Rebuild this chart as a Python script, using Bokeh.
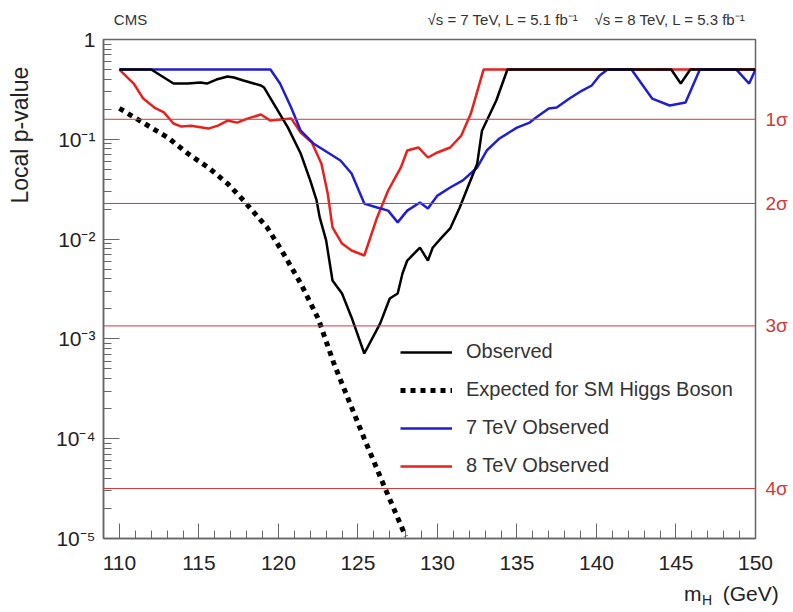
from bokeh.plotting import figure
from bokeh.models import (FixedTicker, CustomJSTickFormatter, Span,
                          Legend, LegendItem, LinearAxis, LogAxis, Range1d,
                          LogScale)
from bokeh.embed import file_html
from bokeh.resources import INLINE

# Combined observed local p-value vs Higgs mass
obs_mass = [110.0, 112.0, 113.4, 114.3, 115.1, 115.5, 116.1, 116.8, 117.2, 117.8,
            118.9, 119.1, 119.7, 120.6, 121.4, 122.0, 122.4, 122.6, 123.0, 123.4,
            124.0, 124.6, 125.4, 126.4, 127.0, 127.5, 127.8, 128.1, 128.9, 129.4,
            129.7, 130.2, 130.8, 131.4, 132.0, 132.5, 132.8, 133.7, 134.4, 144.7,
            145.3, 145.9, 150.0]
obs_p = [0.5, 0.5, 0.362, 0.362, 0.371, 0.362, 0.397, 0.426, 0.416, 0.388,
         0.346, 0.33, 0.228, 0.131, 0.072, 0.0387, 0.0244, 0.0164, 0.0097, 0.00385,
         0.00285, 0.00164, 0.000714, 0.00143, 0.00254, 0.00285, 0.00452, 0.0061, 0.0082, 0.0061,
         0.0082, 0.0101, 0.0128, 0.0207, 0.036, 0.057, 0.122, 0.245, 0.5, 0.5,
         0.362, 0.5, 0.5]

# Expected local p-value for a SM Higgs boson
exp_mass = [110.0, 112.0, 113.05, 114.3, 115.6, 116.8, 117.8, 119.3, 120.2, 121.4,
            122.5, 123.5, 125.4, 126.7, 128.0]
exp_p = [0.204, 0.131, 0.104, 0.072, 0.052, 0.036, 0.0245, 0.013, 0.0077, 0.0036,
         0.0016, 0.00056, 1.0e-4, 3.2e-5, 1.05e-5]

# 7 TeV observed
tev7_mass = [110.0, 119.5, 120.1, 120.8, 121.4, 122.2, 123.1, 123.9, 124.6, 125.4,
             126.2, 126.9, 127.5, 128.1, 128.9, 129.4, 130.0, 130.8, 131.6, 132.5,
             133.1, 133.9, 135.0, 135.8, 136.2, 137.0, 137.5, 138.3, 139.1, 139.7,
             140.2, 140.7, 142.2, 143.5, 144.6, 145.6, 146.5, 148.8, 149.6, 150.0]
tev7_p = [0.5, 0.5, 0.362, 0.208, 0.122, 0.0908, 0.0738, 0.0613, 0.0454, 0.0227,
          0.0207, 0.0193, 0.0147, 0.0193, 0.0233, 0.0203, 0.0273, 0.0329, 0.0387, 0.0522,
          0.0772, 0.102, 0.131, 0.147, 0.165, 0.204, 0.208, 0.256, 0.308, 0.346,
          0.436, 0.5, 0.5, 0.256, 0.218, 0.234, 0.5, 0.5, 0.362, 0.5]

# 8 TeV observed
tev8_mass = [110.0, 110.9, 111.5, 112.2, 112.8, 113.4, 113.9, 114.5, 115.6, 116.2,
             116.8, 117.4, 118.1, 118.9, 119.5, 120.8, 121.4, 122.1, 122.7, 123.1,
             123.4, 124.0, 124.6, 125.4, 126.2, 126.9, 127.7, 128.1, 128.8, 129.4,
             130.0, 130.8, 131.5, 132.1, 132.9, 150.0]
tev8_p = [0.5, 0.362, 0.256, 0.208, 0.186, 0.144, 0.134, 0.137, 0.128, 0.137,
          0.154, 0.147, 0.162, 0.177, 0.154, 0.162, 0.117, 0.0929, 0.0572, 0.0286,
          0.0131, 0.00903, 0.00769, 0.00685, 0.0164, 0.0307, 0.0522, 0.0772, 0.0828, 0.0657,
          0.0738, 0.0828, 0.109, 0.181, 0.5, 0.5]

# One-sided significance levels
sigma_p = [0.1587, 0.02275, 0.00135, 3.17e-5]
sigma_labels = ["1σ", "2σ", "3σ", "4σ"]

x_major = [110, 115, 120, 125, 130, 135, 140, 145, 150]
y_major = [1e-5, 1e-4, 1e-3, 1e-2, 1e-1, 1.0]

header_texts = ["CMS",
                "√s = 7 TeV, L = 5.1 fb⁻¹\u00a0\u00a0\u00a0\u00a0"
                "√s = 8 TeV, L = 5.3 fb⁻¹"]
x_title_main = ["m", "(GeV)"]
x_title_sub = ["H"]
y_title = ["Local p-value"]

FONT = "Liberation Sans"
TEXT = "#222222"
FRAME = "#666666"
RED = "#e8201e"
BLUE = "#1f1fd0"
SIGMA = "#d23a3a"

p = figure(width=793, height=612, x_range=(109, 150), y_range=(1e-5, 1),
           y_axis_type="log", output_backend="svg", toolbar_location=None,
           min_border_left=103, min_border_right=38, min_border_top=39,
           min_border_bottom=74)
p.background_fill_color = "white"
p.border_fill_color = "white"
p.outline_line_color = FRAME
p.outline_line_width = 1.5
p.xgrid.visible = False
p.ygrid.visible = False

# Axes: ticks pointing into the frame
p.xaxis.ticker = FixedTicker(ticks=x_major,
                             minor_ticks=list(range(109, 151)))
p.yaxis.ticker = FixedTicker(ticks=y_major,
                             minor_ticks=[m * 10.0 ** e for e in range(-5, 0)
                                          for m in range(2, 10)])
p.yaxis.formatter = CustomJSTickFormatter(code="""
    const e = Math.round(Math.log10(tick));
    if (e === 0) { return "1"; }
    const sup = {"-": "\u207b", "0": "\u2070", "1": "\u00b9", "2": "\u00b2",
                 "3": "\u00b3", "4": "\u2074", "5": "\u2075"};
    return "10" + String(e).split("").map(c => sup[c]).join("");
""")
for ax, major_len in ((p.xaxis, 15), (p.yaxis, 16)):
    ax.major_tick_in = major_len
    ax.major_tick_out = 0
    ax.minor_tick_in = 8
    ax.minor_tick_out = 0
    ax.axis_line_color = FRAME
    ax.axis_line_width = 1.5
    ax.major_tick_line_color = FRAME
    ax.minor_tick_line_color = FRAME
    ax.major_label_text_font = FONT
    ax.major_label_text_font_size = "21px"
    ax.major_label_text_color = TEXT
p.xaxis.major_label_standoff = 17
p.yaxis.major_label_standoff = 8

# Formatter that prints a given list of strings in tick order
LIST_FMT = "return names[index];"


def text_axis(cls, ticks, names, size, color, standoff, **kw):
    ax = cls(ticker=FixedTicker(ticks=ticks, minor_ticks=[]),
             formatter=CustomJSTickFormatter(args=dict(names=names),
                                             code=LIST_FMT),
             axis_line_color=None, major_tick_line_color=None,
             minor_tick_line_color=None, major_tick_in=0, major_tick_out=0,
             major_label_standoff=standoff, major_label_text_font=FONT,
             major_label_text_font_size=size, major_label_text_color=color,
             **kw)
    return ax


# Significance labels on the right
p.extra_y_ranges = {"sig": Range1d(1e-5, 1)}
p.extra_y_scales = {"sig": LogScale()}
p.add_layout(text_axis(LogAxis, sorted(sigma_p), sigma_labels[::-1], "19px",
                       SIGMA, 10, y_range_name="sig"), "right")

# y-axis title, placed toward the top of the axis
p.add_layout(text_axis(LogAxis, [0.11], y_title, "23px", TEXT, 20,
                       y_range_name="sig", major_label_orientation="vertical"),
             "left")

# Header line above the frame
p.add_layout(text_axis(LinearAxis, [110.7, 139.4], header_texts, "15px",
                       "#333333", 12), "above")

# x-axis title, m with subscript H, at the lower right
p.add_layout(text_axis(LinearAxis, [146.05, 149.7], x_title_main, "21px",
                       TEXT, 9), "below")
p.add_layout(text_axis(LinearAxis, [146.95], x_title_sub, "14px",
                       TEXT, -16), "below")

# Significance reference lines
for sp in sigma_p:
    p.add_layout(Span(location=sp, dimension="width", line_color=SIGMA,
                      line_width=1))

# Curves
r8 = p.line(tev8_mass, tev8_p, line_color=RED, line_width=2.5)
r7 = p.line(tev7_mass, tev7_p, line_color=BLUE, line_width=2.5)
robs = p.line(obs_mass, obs_p, line_color="black", line_width=2.5)
rexp = p.line(exp_mass, exp_p, line_color="black", line_width=5,
              line_dash="5 5")

legend = Legend(items=[
    LegendItem(label="Observed", renderers=[robs]),
    LegendItem(label="Expected for SM Higgs Boson", renderers=[rexp]),
    LegendItem(label="7 TeV Observed", renderers=[r7]),
    LegendItem(label="8 TeV Observed", renderers=[r8]),
], location=(297, 61), border_line_color=None, background_fill_alpha=0,
   label_text_font=FONT, label_text_font_size="20px", label_text_color="#333333",
   glyph_width=52, glyph_height=20, label_height=20, spacing=15, padding=10,
   label_standoff=14, margin=0)
p.add_layout(legend)

open("out.html", "w").write(file_html(p, INLINE))
